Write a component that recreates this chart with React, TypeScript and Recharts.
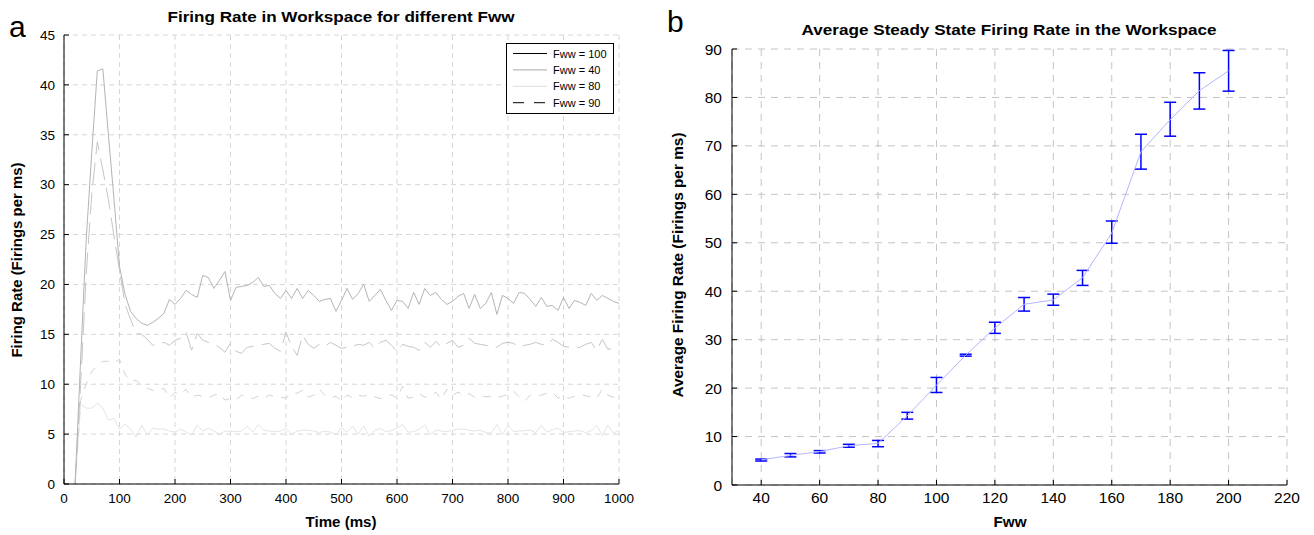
import { LineChart, Line, XAxis, YAxis, CartesianGrid, ErrorBar } from 'recharts';

// panel a: firing rate over time, one array per Fww value
const TIME = [
  20, 30, 40, 50, 60, 70, 80, 90, 100, 110, 120, 130, 140, 150, 160, 170, 180, 190, 200,
  210, 220, 230, 240, 250, 260, 270, 280, 290, 300, 310, 320, 330, 340, 350, 360, 370, 380, 390, 400,
  410, 420, 430, 440, 450, 460, 470, 480, 490, 500, 510, 520, 530, 540, 550, 560, 570, 580, 590, 600,
  610, 620, 630, 640, 650, 660, 670, 680, 690, 700, 710, 720, 730, 740, 750, 760, 770, 780, 790, 800,
  810, 820, 830, 840, 850, 860, 870, 880, 890, 900, 910, 920, 930, 940, 950, 960, 970, 980, 990, 1000,
];

const FWW_100 = [
  0, 12.5, 24.5, 33.2, 41.4, 41.6, 35.0, 28.6, 21.8, 19.0, 17.3, 16.6, 16.1, 15.9, 16.2, 16.6, 17.1, 18.5, 18.0,
  18.6, 19.4, 19.0, 18.7, 20.9, 20.7, 19.6, 20.4, 21.3, 18.4, 19.7, 19.8, 19.9, 20.2, 20.7, 19.8, 19.9, 19.1, 18.6, 19.4,
  18.6, 19.6, 18.6, 19.4, 18.9, 18.3, 18.5, 18.6, 17.3, 18.4, 19.6, 18.5, 19.1, 20.0, 18.3, 18.9, 19.5, 18.4, 17.4, 18.4,
  18.3, 17.6, 19.2, 18.0, 19.6, 18.9, 19.2, 18.5, 18.0, 18.3, 18.8, 19.1, 17.6, 19.0, 17.6, 18.1, 19.2, 17.0, 18.9, 18.6,
  18.1, 19.2, 19.1, 18.5, 17.8, 18.7, 17.8, 17.9, 17.4, 18.7, 17.6, 18.4, 18.2, 17.9, 19.1, 18.4, 18.9, 18.6, 18.3, 18.1,
];

const FWW_40 = [
  0, 8.0, 7.6, 7.6, 8.1, 7.6, 6.4, 6.6, 5.5, 6.0, 5.5, 4.7, 5.9, 4.9, 5.6, 5.5, 5.5, 5.3, 5.2,
  5.5, 5.2, 4.9, 5.9, 5.3, 5.6, 5.3, 5.0, 5.3, 5.3, 5.25, 5.3, 5.8, 5.2, 5.95, 5.4, 5.3, 5.25, 5.3, 5.55,
  5.0, 5.3, 5.4, 5.4, 5.3, 5.15, 5.3, 5.2, 4.95, 5.6, 5.2, 5.8, 5.0, 5.8, 4.8, 5.4, 5.55, 5.25, 5.35, 5.6,
  5.95, 5.2, 5.25, 5.5, 5.9, 4.95, 5.4, 5.3, 5.25, 5.4, 5.5, 5.5, 5.4, 5.3, 5.4, 5.15, 5.1, 5.95, 4.95, 5.85,
  5.25, 5.3, 5.35, 5.4, 5.15, 5.9, 5.2, 5.45, 5.6, 5.15, 5.25, 5.3, 5.35, 5.15, 5.35, 5.9, 4.85, 5.9, 5.1, 5.4,
];

const FWW_80 = [
  0, 8.4, 10.0, 11.3, 11.8, 12.3, 12.3, 12.1, 12.5, 11.0, 10.3, 10.4, 9.8, 9.6, 9.4, 9.3, 9.6, 8.6, 9.2,
  9.0, 9.5, 8.7, 8.9, 8.8, 8.6, 8.9, 9.05, 8.4, 8.6, 8.45, 8.9, 8.8, 8.55, 8.8, 8.6, 8.9, 8.8, 8.7, 8.6,
  9.05, 9.1, 9.4, 8.7, 8.9, 9.5, 8.9, 8.6, 8.8, 8.3, 8.9, 8.65, 8.9, 8.8, 8.95, 8.75, 8.55, 8.8, 8.95, 8.6,
  9.8, 8.6, 8.7, 9.05, 8.7, 8.8, 9.2, 8.5, 9.5, 8.9, 9.2, 8.9, 9.05, 8.7, 8.8, 8.75, 8.8, 8.7, 8.8, 9.0,
  9.3, 8.75, 8.3, 8.9, 8.85, 8.9, 9.1, 9.2, 8.6, 8.8, 8.6, 8.8, 8.95, 8.85, 8.7, 8.6, 9.5, 8.9, 8.7, 8.7,
];

const FWW_90 = [
  0, 10, 21, 29, 34.3, 31.5, 28.5, 24.9, 21.4, 18.0, 16.5, 15.1, 15.0, 14.5, 13.9, 14.0, 14.2, 13.9, 14.4,
  14.6, 15.2, 13.4, 15.1, 14.4, 14.2, 14.0, 13.7, 13.2, 14.1, 13.3, 13.1, 13.7, 13.8, 13.9, 14.0, 14.1, 13.6, 13.3, 15.2,
  13.8, 12.9, 14.9, 14.0, 13.6, 14.0, 13.8, 14.2, 13.9, 13.6, 13.7, 13.8, 14.0, 13.9, 14.2, 13.6, 14.2, 14.4, 13.9, 13.3,
  14.0, 13.8, 13.7, 13.4, 14.2, 13.7, 14.3, 13.7, 14.1, 14.4, 13.7, 13.9, 14.6, 14.1, 14.0, 13.9, 13.8, 13.7, 14.1, 14.2,
  14.1, 13.7, 13.9, 14.0, 14.2, 14.0, 13.9, 14.5, 14.2, 13.8, 13.7, 13.7, 13.7, 14.0, 14.2, 13.4, 14.5, 13.5, 13.6, 13.7,
];

const TIME_TICKS = [0, 100, 200, 300, 400, 500, 600, 700, 800, 900, 1000];
const RATE_TICKS = [0, 5, 10, 15, 20, 25, 30, 35, 40, 45];

// panel b: steady state mean with error bar ends
const FWW = [40, 50, 60, 70, 80, 90, 100, 110, 120, 130, 140, 150, 160, 170, 180, 190, 200];
const AVG_RATE = [5.2, 6.1, 6.9, 8.1, 8.6, 14.3, 20.6, 26.8, 32.4, 37.3, 38.2, 42.8, 52.0, 68.8, 75.4, 81.4, 85.5];
const AVG_LOW = [4.95, 5.8, 6.6, 7.8, 7.9, 13.6, 19.1, 26.6, 31.3, 35.9, 37.1, 41.2, 49.9, 65.2, 72.0, 77.6, 81.3];
const AVG_HIGH = [5.35, 6.5, 7.1, 8.4, 9.2, 15.0, 22.2, 27.0, 33.6, 38.7, 39.4, 44.3, 54.5, 72.4, 79.0, 85.1, 89.7];

const FWW_TICKS = [40, 60, 80, 100, 120, 140, 160, 180, 200, 220];
const AVG_TICKS = [0, 10, 20, 30, 40, 50, 60, 70, 80, 90];

const FONT = '"Liberation Sans", Arial, sans-serif';

const timeData = TIME.map((t, i) => ({
  t, f100: FWW_100[i], f40: FWW_40[i], f80: FWW_80[i], f90: FWW_90[i],
}));

const avgData = FWW.map((f, i) => ({
  fww: f,
  rate: AVG_RATE[i],
  err: [AVG_RATE[i] - AVG_LOW[i], AVG_HIGH[i] - AVG_RATE[i]],
}));

const LEGEND = [
  { label: 'Fww = 100', stroke: '#000', dash: undefined },
  { label: 'Fww = 40', stroke: '#a8a8a8', dash: undefined },
  { label: 'Fww = 80', stroke: '#dedede', dash: undefined },
  { label: 'Fww = 90', stroke: '#000', dash: '11 10' },
];

const blank = () => '';

export default function App() {
  const tickA = { fontSize: 13.5, fill: '#000', fontFamily: FONT };
  const tickB = { fontSize: 15.5, fill: '#000', fontFamily: FONT };
  return (
    <div style={{ position: 'relative', width: 1314, height: 535, background: '#fff', fontFamily: FONT }}>
      <style>{'body{margin:0}'}</style>

      {/* panel a */}
      <div style={{ position: 'absolute', left: 0, top: 0 }}>
        <LineChart width={640} height={535} data={timeData} margin={{ top: 35, right: 21, left: 0, bottom: 0 }}>
          <CartesianGrid stroke="#d6d6d6" strokeDasharray="5 4" />
          <XAxis dataKey="t" type="number" domain={[0, 1000]} ticks={TIME_TICKS} interval={0} height={51}
            stroke="#000" tick={tickA} tickSize={-5} tickMargin={14} />
          <XAxis xAxisId="top" orientation="top" dataKey="t" type="number" domain={[0, 1000]} ticks={TIME_TICKS}
            interval={0} height={0} stroke="#000" tickSize={-5} tickFormatter={blank} />
          <YAxis type="number" domain={[0, 45]} ticks={RATE_TICKS} interval={0} width={64}
            stroke="#000" tick={tickA} tickSize={-5} tickMargin={14} />
          <YAxis yAxisId="right" orientation="right" type="number" domain={[0, 45]} ticks={RATE_TICKS}
            interval={0} width={0} stroke="#000" tickSize={-5} tickFormatter={blank} />
          <Line dataKey="f40" stroke="#e4e4e4" strokeWidth={1} dot={false} isAnimationActive={false} />
          <Line dataKey="f80" stroke="#d2d2d2" strokeWidth={1} strokeDasharray="8 8" dot={false} isAnimationActive={false} />
          <Line dataKey="f90" stroke="#c6c6c6" strokeWidth={1} strokeDasharray="22 8" dot={false} isAnimationActive={false} />
          <Line dataKey="f100" stroke="#b4b4b4" strokeWidth={1} dot={false} isAnimationActive={false} />
        </LineChart>
      </div>

      {/* panel a legend */}
      <svg style={{ position: 'absolute', left: 506, top: 43 }} width={108} height={71}>
        <rect x={0.5} y={0.5} width={107} height={70} fill="#fff" stroke="#000" />
        {LEGEND.map((d, i) => (
          <g key={d.label}>
            <line x1={7} x2={41} y1={10.5 + i * 16.4} y2={10.5 + i * 16.4} stroke={d.stroke} strokeDasharray={d.dash} />
            <text x={47} y={14.5 + i * 16.4} fontSize={11} fontFamily={FONT} fill="#000">{d.label}</text>
          </g>
        ))}
      </svg>

      {/* panel b */}
      <div style={{ position: 'absolute', left: 660, top: 0 }}>
        <LineChart width={654} height={535} data={avgData} margin={{ top: 49, right: 27, left: 0, bottom: 0 }}>
          <CartesianGrid stroke="#c4c4c4" strokeDasharray="7 6" />
          <XAxis dataKey="fww" type="number" domain={[30, 220]} ticks={FWW_TICKS} interval={0} height={50}
            stroke="#000" tick={tickB} tickSize={-5} tickMargin={11.5} />
          <XAxis xAxisId="top" orientation="top" dataKey="fww" type="number" domain={[30, 220]} ticks={FWW_TICKS}
            interval={0} height={0} stroke="#000" tickSize={-5} tickFormatter={blank} />
          <YAxis type="number" domain={[0, 90]} ticks={AVG_TICKS} interval={0} width={72}
            stroke="#000" tick={tickB} tickSize={-5} tickMargin={15} />
          <YAxis yAxisId="right" orientation="right" type="number" domain={[0, 90]} ticks={AVG_TICKS}
            interval={0} width={0} stroke="#000" tickSize={-5} tickFormatter={blank} />
          <Line dataKey="rate" stroke="#b4b4ff" strokeWidth={1} dot={false} isAnimationActive={false}>
            <ErrorBar dataKey="err" width={6} stroke="#0000ff" strokeWidth={1.5} direction="y" isAnimationActive={false} />
          </Line>
        </LineChart>
      </div>

      {/* titles, panel letters and axis names */}
      <svg style={{ position: 'absolute', left: 0, top: 0, pointerEvents: 'none' }} width={1314} height={535}>
        <g fontFamily={FONT} fill="#000">
          <text x={9} y={37} fontSize={30}>a</text>
          <text x={667} y={32} fontSize={30}>b</text>
          <text x={341} y={22} fontSize={15} fontWeight="bold" textAnchor="middle"
            textLength={347} lengthAdjust="spacingAndGlyphs">Firing Rate in Workspace for different Fww</text>
          <text x={1009} y={35} fontSize={15.5} fontWeight="bold" textAnchor="middle"
            textLength={415} lengthAdjust="spacingAndGlyphs">Average Steady State Firing Rate in the Workspace</text>
          <text x={341} y={527} fontSize={14.5} fontWeight="bold" textAnchor="middle"
            textLength={71} lengthAdjust="spacingAndGlyphs">Time (ms)</text>
          <text x={1010} y={527} fontSize={15} fontWeight="bold" textAnchor="middle"
            textLength={33} lengthAdjust="spacingAndGlyphs">Fww</text>
          <text transform="translate(22,260) rotate(-90)" fontSize={14} fontWeight="bold" textAnchor="middle"
            textLength={195} lengthAdjust="spacingAndGlyphs">Firing Rate (Firings per ms)</text>
          <text transform="translate(683,265) rotate(-90)" fontSize={15} fontWeight="bold" textAnchor="middle"
            textLength={265} lengthAdjust="spacingAndGlyphs">Average Firing Rate (Firings per ms)</text>
        </g>
      </svg>
    </div>
  );
}
